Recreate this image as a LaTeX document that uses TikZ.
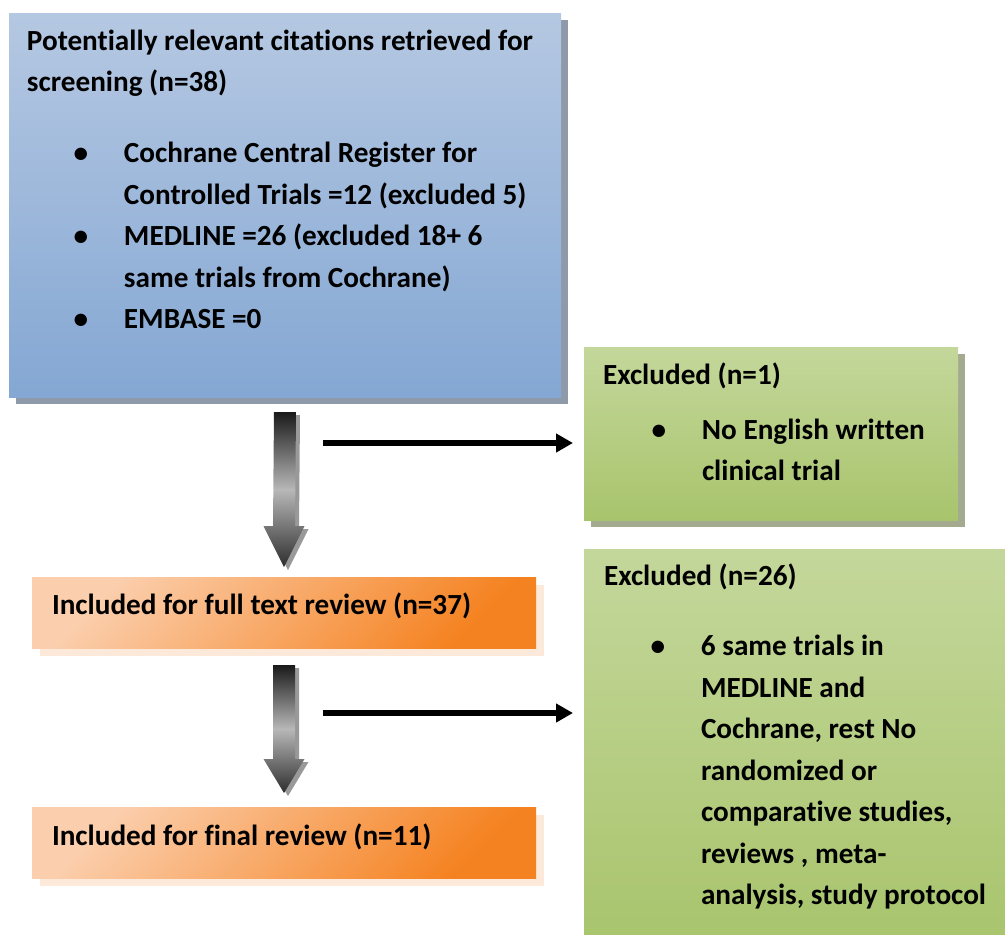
\documentclass[tikz,border=0pt]{standalone}
\usepackage{fontspec}
\setmainfont{Carlito}[Ligatures=NoCommon]
\usetikzlibrary{calc,shadows,arrows.meta}

\definecolor{bluetop}{HTML}{B5C8E2}
\definecolor{bluebot}{HTML}{84A7D3}
\definecolor{blueshade}{HTML}{8E9AAA}
\definecolor{greentop}{HTML}{C4D79B}
\definecolor{greenbot}{HTML}{A8C46C}
\definecolor{greenshade}{HTML}{A4AA90}
\definecolor{orangetop}{HTML}{FBCFAE}
\definecolor{orangebot}{HTML}{F58220}
\definecolor{orangeshade}{HTML}{FDE9D9}

\newcommand{\bul}{\hskip-43pt\makebox[0pt]{\textbullet}\hskip43pt}
% fat shaded arrow: #1 top, #2 tip, #3 head length
\newcommand{\fatarrow}[3]{%
  \fill[black!40] ($(#1)+(-7,3)$) -- ($(#2)+(-7,3-#3)$) -- ($(#2)+(-16.5,3-#3)$) -- ($(#2)+(4,3)$)
    -- ($(#2)+(24.5,3-#3)$) -- ($(#2)+(15,3-#3)$) -- ($(#1)+(15,3)$) -- cycle;
  \shade[top color=black!90, bottom color=black!82, middle color=black!28] ($(#1)+(-11,0)$) -- ($(#2)+(-11,-#3)$)
    -- ($(#2)+(-20.5,-#3)$) -- (#2) -- ($(#2)+(20.5,-#3)$) -- ($(#2)+(11,-#3)$) -- ($(#1)+(11,0)$) -- cycle;
}

\tikzset{
  box/.style={anchor=north west, inner sep=0pt, outer sep=0pt,
    font=\bfseries\fontsize{29.2}{41.5}\selectfont},
  citbox/.style={box, top color=bluetop, bottom color=bluebot,
    drop shadow={shadow xshift=7pt, shadow yshift=-7pt, fill=blueshade, opacity=1}},
  exbox/.style={box, top color=greentop, bottom color=greenbot,
    drop shadow={shadow xshift=7pt, shadow yshift=-7pt, fill=greenshade, opacity=1}},
  inbox/.style={box, top color=orangetop, bottom color=orangebot, shading angle=45,
    drop shadow={shadow xshift=8pt, shadow yshift=-8pt, fill=orangeshade, opacity=1}},
  linkarrow/.style={line width=6pt, -{Triangle[length=17pt,width=18pt]}}
}

\begin{document}
\begin{tikzpicture}[x=1pt,y=-1pt]
\useasboundingbox (0,0) rectangle (1005,935);

% boxes
\node[citbox] (cit) at (9,13) {\parbox[t][384pt][t]{552pt}{\raggedright\leftskip=18pt
  \rule{0pt}{37pt}Potentially relevant citations retrieved for\\screening (n=38)\par
  \vspace{29.5pt}\leftskip=115pt
  \bul Cochrane Central Register for\\Controlled Trials =12 (excluded 5)\par
  \bul MEDLINE =26 (excluded 18+ 6\\same trials from Cochrane)\par
  \bul EMBASE =0\par}};
\node[exbox] (ex1) at (584,347) {\parbox[t][173pt][t]{374pt}{\raggedright\leftskip=19pt
  \rule{0pt}{37pt}Excluded (n=1)\par
  \vspace{13.5pt}\leftskip=118pt
  \bul No English written\\clinical trial\par}};
\node[inbox] (full) at (32,577) {\parbox[t][71pt][t]{504pt}{\raggedright\leftskip=20pt
  \rule{0pt}{37pt}Included for full text review (n=37)}};
\node[exbox] (ex2) at (584,549) {\parbox[t][400pt][t]{430pt}{\raggedright\leftskip=20pt
  \rule{0pt}{36pt}Excluded (n=26)\par
  \vspace{29pt}\leftskip=117pt
  \bul 6 same trials in\\MEDLINE and\\Cochrane, rest No\\randomized or\\comparative studies,\\reviews , meta-\\analysis, study protocol\par}};
\node[inbox] (final) at (32,807) {\parbox[t][71pt][t]{504pt}{\raggedright\leftskip=20pt
  \rule{0pt}{38pt}Included for final review (n=11)}};

% down arrows
\coordinate (d1) at ($(cit.south)+(0,15)$);
\coordinate (d1tip) at ($(full.north)+(0,-10)$);
\fatarrow{d1}{d1tip}{41}
\coordinate (d2) at ($(full.south)+(0,17)$);
\coordinate (d2tip) at ($(final.north)+(0,-14)$);
\fatarrow{d2}{d2tip}{34}

% side arrows
\coordinate (h1) at (323,443);
\draw[linkarrow] (h1) -- ($(h1 -| ex1.west)+(-11,0)$);
\coordinate (h2) at (323,713);
\draw[linkarrow] (h2) -- ($(h2 -| ex2.west)+(-11,0)$);
\end{tikzpicture}
\end{document}
